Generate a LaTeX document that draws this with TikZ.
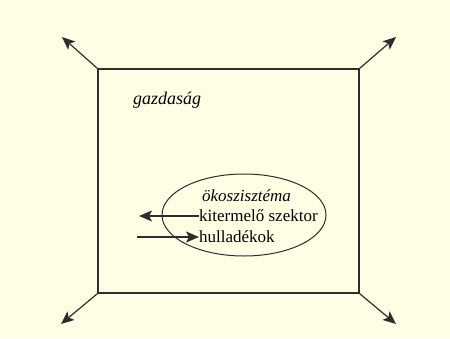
\documentclass[tikz,border=0pt]{standalone}
\usepackage{fontspec}
\setmainfont{Liberation Serif}
\usetikzlibrary{shapes.geometric,arrows.meta}
\definecolor{bg}{RGB}{255,255,230}
\definecolor{ln}{RGB}{45,45,45}
\begin{document}
\begin{tikzpicture}[x=1pt,y=-1pt,
  box/.style={draw=ln, line width=1.3pt, inner sep=0pt},
  arr/.style={draw=ln, line width=1.2pt, -{Stealth[length=13pt,width=11pt,inset=3pt]}},
  lbl/.style={inner sep=0pt, anchor=west, font=\fontsize{17}{19}\selectfont}]
\fill[bg] (0,0) rectangle (450,338);
\useasboundingbox (0,0) rectangle (450,338);
\node[box, minimum width=261pt, minimum height=224pt] (gaz) at (228.5,181) {};
\node[box, ellipse, line width=1pt, minimum width=164pt, minimum height=82pt] (oko) at (244,215) {};
\node[lbl, font=\itshape\fontsize{18}{20}\selectfont] (gt) at (133,100) {gazdaság};
\node[lbl, font=\itshape\fontsize{17}{19}\selectfont] (ot) at (202,196) {ökoszisztéma};
\node[lbl] (kit) at (199,216) {kitermelő szektor};
\node[lbl] (hul) at (199,237) {hulladékok};
\coordinate (nw) at (62,37);
\coordinate (ne) at (396,37);
\coordinate (sw) at (61,324);
\coordinate (se) at (396,324);
\coordinate (a1) at (139,216);
\coordinate (a2) at (137,237);
\draw[arr] (gaz.north west) -- (nw);
\draw[arr] (gaz.north east) -- (ne);
\draw[arr] (gaz.south west) -- (sw);
\draw[arr] (gaz.south east) -- (se);
\draw[arr] (kit.west) -- (a1);
\draw[arr] (a2) -- (hul.west);
\end{tikzpicture}
\end{document}
